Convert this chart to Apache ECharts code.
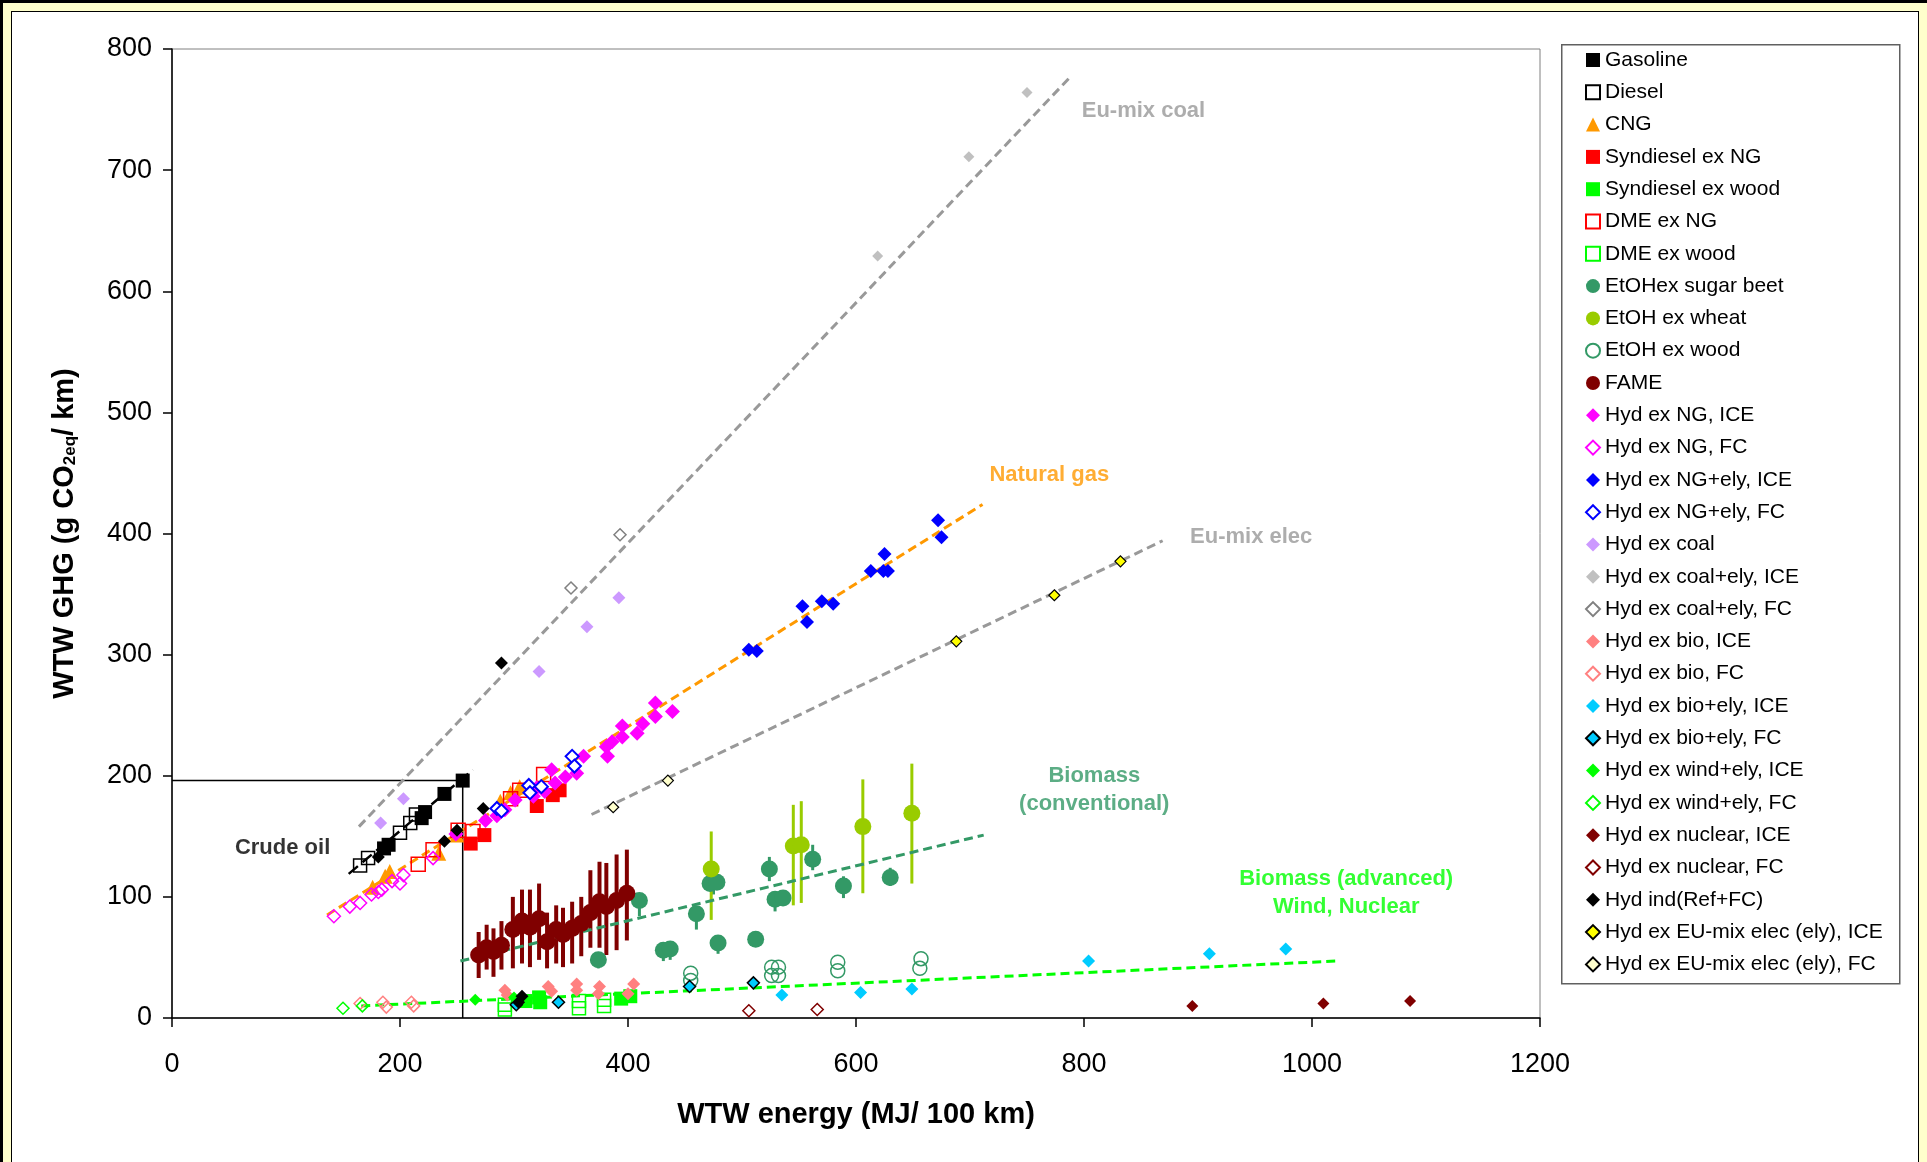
<!DOCTYPE html>
<html><head><meta charset="utf-8">
<script src="https://cdn.jsdelivr.net/npm/echarts/dist/echarts.min.js"></script>
<style>
html,body{margin:0;padding:0;width:1927px;height:1162px;overflow:hidden;background:#FFFFCC;}
#frame{position:absolute;left:0;top:0;width:1924px;height:1159px;border-top:3px solid #000;border-left:3px solid #000;}
#inner{position:absolute;left:11px;top:11px;width:1906px;height:1160px;background:#fff;border:1px solid #000;}
#chart{position:absolute;left:0;top:0;width:1927px;height:1162px;}
</style></head>
<body>
<div id="frame"></div><div id="inner"></div>
<div id="chart"></div>
<script>
// ---------- data (WTW energy MJ/100km, WTW GHG g CO2eq/km) ----------
const xTicks = [0, 200, 400, 600, 800, 1000, 1200];
const yTicks = [0, 100, 200, 300, 400, 500, 600, 700, 800];

const gasoline = [[255,196],[239,185],[222,170],[219,165],[190,143],[186,140]];
const diesel = [[165,126],[172,132],[200,153],[209,161],[214,168]];
const cng = [[176,108],[187,117],[191,121],[234,136],[250,151],[288,179],[297,186],[305,191]];
const syndieselNG = [[262,144],[274,151],[320,175],[334,184],[340,188]];
const syndieselWood = [[310,14],[323,13],[322,17],[394,16],[402,18]];
const dmeNG = [[216,127],[229,139],[251,155],[264,154],[297,181],[305,188],[326,201]];
const dmeWood = [[292,11],[292,7],[357,14],[357,8],[379,15],[379,10]];
const etohSugarBeet = [[374,48],[410,97],[431,56],[437,57],[460,86],[472,111],[478,112],[479,62],[512,65],[524,123],[529,98],[536,99],[562,131],[589,109],[630,116]];
const etohSugarBeetErr = [[374,41,54],[410,84,103],[431,47,59],[437,48,60],[460,73,91],[475,102,119],[479,53,64],[524,113,133],[529,88,101],[562,122,143],[589,99,117],[630,109,124]];
const etohWheat = [[473,123],[545,142],[552,143],[606,158],[649,169]];
const etohWheatErr = [[473,81,154],[545,93,176],[552,95,179],[606,103,197],[649,111,210]];
const etohWood = [[455,37],[455,31],[526,42],[526,35],[532,42],[532,35],[584,46],[584,39],[657,49],[656,41]];
const fame = [[269,52],[276,58],[282,55],[289,60],[299,73],[307,80],[314,75],[322,82],[329,63],[337,73],[343,69],[351,74],[359,78],[367,87],[375,96],[381,92],[390,97],[399,103]];
const fameErr = [[269,33,71],[276,40,77],[282,34,74],[289,40,80],[299,41,100],[307,45,106],[314,42,106],[322,48,111],[329,41,87],[337,45,93],[343,42,91],[351,45,96],[359,51,100],[367,58,122],[375,58,129],[381,52,128],[390,56,135],[399,64,139]];
const hydNgIce = [[249,152],[275,163],[285,167],[292,172],[301,180],[317,183],[320,190],[327,187],[336,194],[333,205],[345,199],[355,202],[361,216],[382,216],[381,224],[386,228],[395,232],[395,241],[408,235],[413,243],[424,249],[424,260],[439,253]];
const hydNgFc = [[142,84],[156,92],[165,95],[175,102],[181,104],[184,106],[193,113],[200,111],[203,118],[229,132]];
const hydNgElyIce = [[506,304],[513,303],[553,340],[557,327],[570,344],[580,342],[613,369],[624,369],[628,369],[625,383],[672,411],[675,397]];
const hydNgElyFc = [[285,173],[289,171],[313,192],[314,186],[324,191],[351,216],[353,208]];
const hydCoal = [[183,161],[203,181],[322,286],[364,323],[392,347]];
const hydCoalElyIce = [[619,629],[699,711],[750,764]];
const hydCoalElyFc = [[350,355],[393,399]];
const hydBioIce = [[292,23],[294,19],[330,26],[333,22],[355,28],[355,23],[375,26],[374,20],[400,20],[405,28]];
const hydBioFc = [[165,12],[185,13],[188,9],[210,13],[212,10]];
const hydBioElyIce = [[535,19],[604,21],[649,24],[804,47],[910,53],[977,57]];
const hydBioElyFc = [[302,11],[339,13],[454,26],[510,29]];
const hydWindIce = [[266,15],[300,17]];
const hydWindFc = [[150,8],[167,10]];
const hydNuclearIce = [[895,10],[1010,12],[1086,14]];
const hydNuclearFc = [[506,6],[566,7]];
const hydInd = [[289,293],[273,173],[250,155],[239,146],[181,133],[307,18],[304,13]];
const hydEuMixIce = [[688,311],[774,349],[832,377]];
const hydEuMixFc = [[387,174],[435,196]];

// trend lines and reference lines
const trendCrude = [[155,119],[264,205]];
const trendCoal = [[164,158],[787,776]];
const trendNG = [[136,85],[711,424]];
const trendElec = [[368,168],[869,394]];
const trendBioConv = [[253,47],[712,151]];
const trendBioAdv = [[166,10],[1021,47]];
const refH = [[0,196],[255,196]];
const refV = [[255,0],[255,196]];

// annotations
const annoText = ['Eu-mix coal','Natural gas','Eu-mix elec','Biomass\n(conventional)','Biomass (advanced)\nWind, Nuclear','Crude oil'];
const annoPos = [[798,749],[717,448],[893,397],[809,188],[1030,103],[97,140]];

// ---------- build ----------
const FONT = "'Liberation Sans', Arial, sans-serif";
const T = 'transparent';
function sc(name, data, symbol, size, fill, border, bw){
  return {type:'scatter', name, data, symbol, symbolSize:size, z:3,
    itemStyle:{color:fill, borderColor:border||fill, borderWidth:bw||0, opacity:1},
    emphasis:{disabled:true}};
}
function ln(data, color, width, dash){
  return {type:'line', data, symbol:'none', silent:true, z:2,
    lineStyle:{color, width, type:dash}, emphasis:{disabled:true}};
}
function err(data, color, width){
  return {type:'custom', data, z:2, silent:true, encode:{x:0, y:[1,2]},
    renderItem:function(params, api){
      const p1 = api.coord([api.value(0), api.value(1)]);
      const p2 = api.coord([api.value(0), api.value(2)]);
      return {type:'line', shape:{x1:p1[0],y1:p1[1],x2:p2[0],y2:p2[1]}, style:{stroke:color, lineWidth:width}};
    }};
}
const dash = [9,5];
const scatterSeries = [
  sc('Gasoline', gasoline, 'rect', 14, '#000'),
  sc('Diesel', diesel, 'rect', 13, T, '#000', 1.5),
  sc('CNG', cng, 'triangle', 15, '#FF9900'),
  sc('Syndiesel ex NG', syndieselNG, 'rect', 14, '#FF0000'),
  sc('Syndiesel ex wood', syndieselWood, 'rect', 14, '#00FF00'),
  sc('DME ex NG', dmeNG, 'rect', 14, T, '#FF0000', 1.5),
  sc('DME ex wood', dmeWood, 'rect', 13, T, '#00FF00', 1.5),
  sc('EtOHex sugar beet', etohSugarBeet, 'circle', 17, '#339966'),
  sc('EtOH ex wheat', etohWheat, 'circle', 17, '#99CC00'),
  sc('EtOH ex wood', etohWood, 'circle', 14, T, '#339966', 1.5),
  sc('FAME', fame, 'circle', 17, '#800000'),
  sc('Hyd ex NG, ICE', hydNgIce, 'diamond', 15, '#FF00FF'),
  sc('Hyd ex NG, FC', hydNgFc, 'diamond', 13, T, '#FF00FF', 1.5),
  sc('Hyd ex NG+ely, ICE', hydNgElyIce, 'diamond', 14, '#0000FF'),
  sc('Hyd ex NG+ely, FC', hydNgElyFc, 'diamond', 13, '#fff', '#0000FF', 2),
  sc('Hyd ex coal', hydCoal, 'diamond', 13, '#CC99FF'),
  sc('Hyd ex coal+ely, ICE', hydCoalElyIce, 'diamond', 11, '#C0C0C0'),
  sc('Hyd ex coal+ely, FC', hydCoalElyFc, 'diamond', 12, '#fff', '#808080', 1.5),
  sc('Hyd ex bio, ICE', hydBioIce, 'diamond', 13, '#FF8080'),
  sc('Hyd ex bio, FC', hydBioFc, 'diamond', 12, T, '#FF8080', 1.5),
  sc('Hyd ex bio+ely, ICE', hydBioElyIce, 'diamond', 13, '#00CCFF'),
  sc('Hyd ex bio+ely, FC', hydBioElyFc, 'diamond', 12, '#00CCFF', '#000', 1.5),
  sc('Hyd ex wind+ely, ICE', hydWindIce, 'diamond', 12, '#00FF00'),
  sc('Hyd ex wind+ely, FC', hydWindFc, 'diamond', 12, T, '#00FF00', 1.5),
  sc('Hyd ex nuclear, ICE', hydNuclearIce, 'diamond', 12, '#800000'),
  sc('Hyd ex nuclear, FC', hydNuclearFc, 'diamond', 12, '#fff', '#800000', 1.5),
  sc('Hyd ind(Ref+FC)', hydInd, 'diamond', 13, '#000'),
  sc('Hyd ex EU-mix elec (ely), ICE', hydEuMixIce, 'diamond', 11, '#FFFF00', '#000', 1.2),
  sc('Hyd ex EU-mix elec (ely), FC', hydEuMixFc, 'diamond', 11, '#FFFFCC', '#000', 1.2)
];
const legendNames = scatterSeries.map(s => s.name);

const annoColors = ['#999999','#FF9900','#999999','#339966','#00FF00','#000000'];
const annoAlign = ['left','left','left','center','center','center'];
const annoSeries = annoText.map((t,i) => ({
  type:'scatter', data:[annoPos[i]], symbolSize:0, silent:true, z:4,
  label:{show:true, formatter:t, position: annoAlign[i]==='left' ? 'right' : 'inside', distance:0,
    color:annoColors[i], fontSize:22, fontWeight:'bold', fontFamily:FONT, lineHeight:28, align:annoAlign[i]}
}));

const series = [
  ln(refH, '#000', 1.5, 'solid'),
  ln(refV, '#000', 1.5, 'solid'),
  ln(trendCoal, '#999999', 3, dash),
  ln(trendNG, '#FF9900', 3, dash),
  ln(trendElec, '#999999', 3, dash),
  ln(trendBioConv, '#339966', 3, dash),
  ln(trendBioAdv, '#00FF00', 3, dash),
  ln(trendCrude, '#000', 2.5, [12,6]),
  err(fameErr, '#800000', 4),
  err(etohSugarBeetErr, '#339966', 3),
  err(etohWheatErr, '#99CC00', 3),
  ...scatterSeries,
  ...annoSeries
];

const chart = echarts.init(document.getElementById('chart'), null, {renderer:'canvas'});
chart.setOption({
  animation:false,
  backgroundColor:'transparent',
  textStyle:{fontFamily:FONT},
  grid:{left:172, top:49, width:1368, height:969, show:true, borderColor:'#808080', borderWidth:1, backgroundColor:'#fff'},
  xAxis:{type:'value', min:xTicks[0], max:xTicks[xTicks.length-1], interval:200, splitLine:{show:false},
    axisLine:{show:true, onZero:false, lineStyle:{color:'#000', width:1.5}},
    axisTick:{show:true, length:9, lineStyle:{color:'#000', width:1.5}},
    axisLabel:{fontSize:27, color:'#000', margin:33, fontFamily:FONT, formatter:v => String(v)},
    name:'WTW energy (MJ/ 100 km)', nameLocation:'middle', nameGap:82,
    nameTextStyle:{fontSize:29, fontWeight:'bold', color:'#000', fontFamily:FONT}},
  yAxis:{type:'value', min:yTicks[0], max:yTicks[yTicks.length-1], interval:100, splitLine:{show:false},
    axisLine:{show:true, onZero:false, lineStyle:{color:'#000', width:1.5}},
    axisTick:{show:true, length:9, lineStyle:{color:'#000', width:1.5}},
    axisLabel:{fontSize:27, color:'#000', margin:20, fontFamily:FONT, formatter:v => String(v)},
    name:'WTW GHG (g CO{sub|2eq}/ km)', nameLocation:'middle', nameGap:93, nameRotate:90,
    nameTextStyle:{fontSize:29, fontWeight:'bold', color:'#000', fontFamily:FONT,
      rich:{sub:{fontSize:17, fontWeight:'bold', color:'#000', fontFamily:FONT, verticalAlign:'bottom', padding:[12,0,0,0]}}}},
  legend:{orient:'vertical', left:1580, top:44, itemWidth:14, itemHeight:14, itemGap:10.3,
    data:legendNames, selectedMode:false,
    textStyle:{fontSize:21, color:'#000', fontFamily:FONT, lineHeight:22}},
  graphic:[{type:'rect', left:1561, top:44, shape:{width:338, height:939}, z:-1,
    style:{fill:'#fff', stroke:'#606060', lineWidth:1.5}}],
  series
});
</script>
</body></html>
